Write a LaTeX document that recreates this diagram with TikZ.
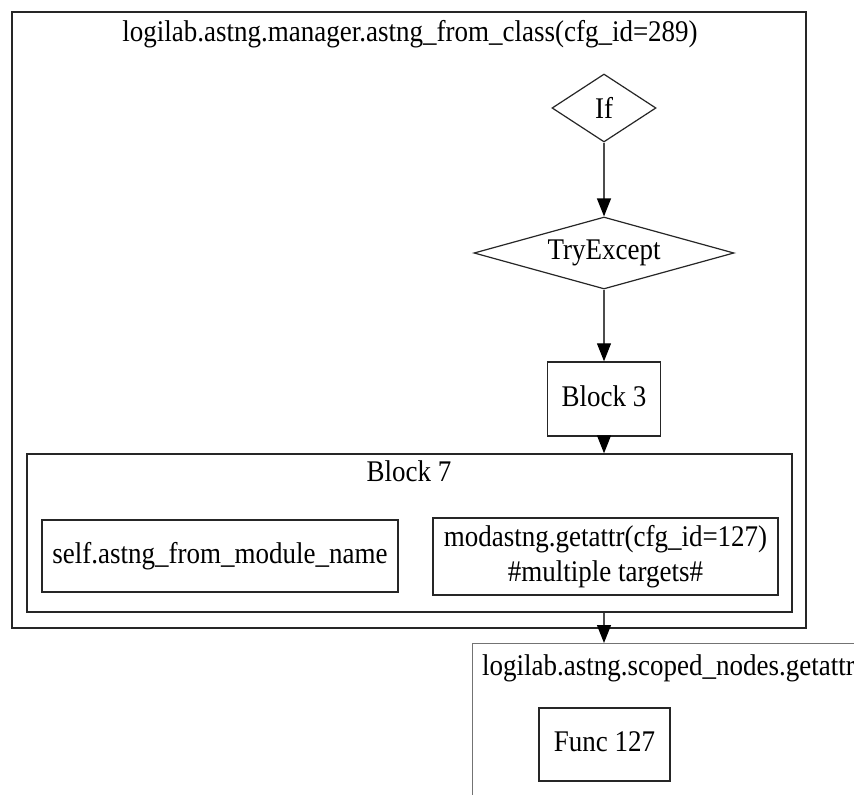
\documentclass[tikz,border=0pt]{standalone}
\usepackage{fontspec}
\setmainfont{Liberation Serif}[FakeStretch=0.9]
\usetikzlibrary{shapes,shapes.geometric,arrows.meta,positioning}

\begin{document}
\begin{tikzpicture}[
    x=1pt, y=-1pt,
    font=\fontsize{30}{35}\selectfont,
    cluster/.style={rectangle, draw=black!85, line width=1.2pt, inner sep=0pt},
    block/.style={rectangle, draw=black!85, line width=1.4pt, align=center, inner sep=0pt},
    fixedtext/.style={text height=21pt, text depth=7pt},
    decision/.style={diamond, draw=black!85, line width=1.2pt, inner sep=0pt},
    arrow/.style={-{Triangle[length=18pt, width=14pt, black]}, line width=1.2pt, draw=black!70}
]

\fill[white] (0,0) rectangle (854,795);
\clip (0,0) rectangle (854,795);

% Clusters
\node[cluster, minimum width=794pt, minimum height=616pt] (fn289) at (409,320) {};
\node[anchor=base] (fn289title) at (410,41) {logilab.astng.manager.astng\_from\_class(cfg\_id=289)};
\node[cluster, line width=1.4pt, minimum width=765pt, minimum height=158pt] (blk7) at (409.5,533) {};
\node[anchor=base] (blk7title) at (409,481) {Block 7};
\node[cluster, draw=black!55, minimum width=450pt, minimum height=250pt, anchor=north west] (scoped) at (472,643) {};
\node[anchor=base west, inner sep=0pt] (scopedtitle) at (482,675) {logilab.astng.scoped\_nodes.getattr};

% Nodes
\node[decision, minimum width=104pt, minimum height=68pt, aspect=1.5] (if) at (604,108) {If};
\node[decision, minimum width=260pt, minimum height=72pt, aspect=3.6] (tryexc) at (604,253) {TryExcept};
\node[block, fixedtext, minimum width=113pt, minimum height=74pt] (blk3) at (604,399) {Block 3};
\node[block, fixedtext, minimum width=356pt, minimum height=72pt] (selfname) at (220,556) {self.astng\_from\_module\_name};
\node[block, minimum width=345pt, minimum height=77pt] (modastng) at (605.5,556.5) {modastng.getattr(cfg\_id=127)\\\#multiple targets\#};
\node[block, fixedtext, minimum width=131pt, minimum height=73pt] (func127) at (604.5,744.5) {Func 127};

\draw[arrow] (if) -- (tryexc);
\draw[arrow] (tryexc) -- (blk3);
\draw[arrow] (blk3) -- (blk3 |- blk7.north);
\draw[arrow] (blk3 |- blk7.south) -- (blk3 |- scoped.north);

\end{tikzpicture}
\end{document}
